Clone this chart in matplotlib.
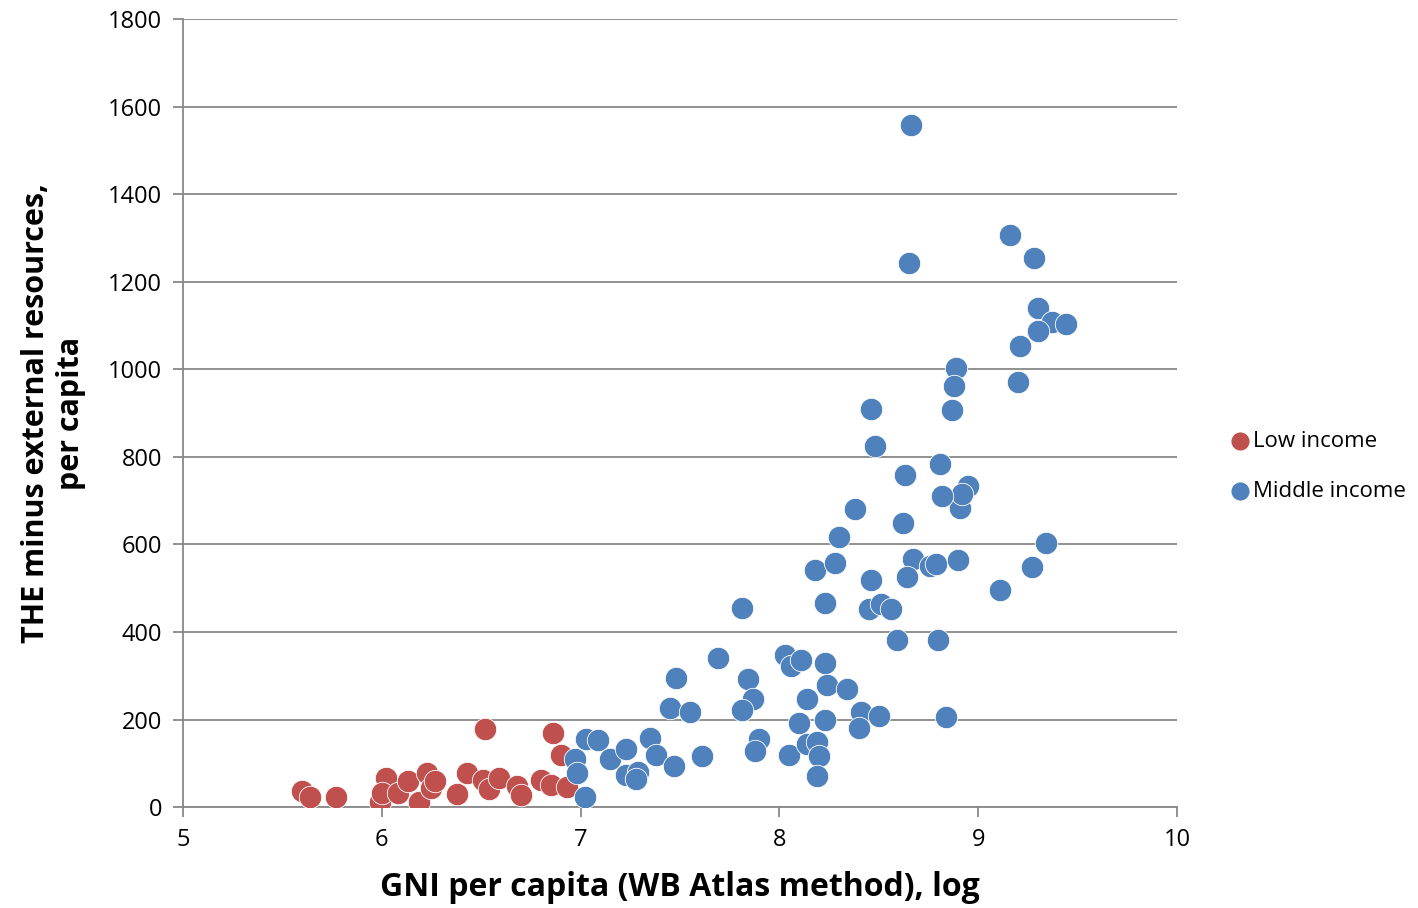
import numpy as np
import matplotlib.pyplot as plt

plt.rcParams['font.family'] = ['Open Sans', 'DejaVu Sans']

# Low income countries
low_x = [5.60, 5.64, 5.77, 5.99, 6.02, 6.00, 6.08, 6.13, 6.19, 6.23, 6.25, 6.27,
         6.38, 6.43, 6.51, 6.52, 6.54, 6.59, 6.68, 6.70, 6.80, 6.85, 6.86, 6.90, 6.93]
low_y = [38, 23, 23, 11, 66, 32, 32, 59, 11, 78, 43, 59,
         30, 78, 62, 178, 41, 66, 48, 27, 62, 50, 169, 119, 46]

# Middle income countries
mid_x = [7.02, 6.97, 6.98, 7.03, 7.09, 7.15, 7.23, 7.23, 7.29, 7.28, 7.35, 7.38,
         7.47, 7.45, 7.48, 7.55, 7.61, 7.69, 7.84, 7.87, 7.81, 7.90, 7.88, 8.03,
         8.06, 8.11, 8.23, 8.24, 8.14, 8.34, 8.10, 8.23, 8.41, 8.40, 8.50, 8.05,
         8.14, 8.19, 8.20, 8.19, 8.38, 8.62, 8.91, 8.30, 8.18, 8.28, 8.46, 8.67,
         8.64, 8.76, 8.79, 8.90, 9.11, 7.81, 8.23, 8.45, 8.51, 8.56, 8.59, 8.80,
         8.84, 8.66, 8.65, 9.16, 9.28, 9.30, 9.37, 9.44, 9.30, 9.21, 9.20, 8.89,
         8.88, 8.87, 8.46, 8.48, 8.63, 8.81, 8.95, 8.92, 8.82, 9.34, 9.27]
mid_y = [23, 111, 77, 155, 153, 110, 132, 73, 80, 64, 157, 119,
         94, 227, 296, 218, 117, 340, 292, 246, 223, 155, 128, 347,
         322, 336, 330, 280, 246, 269, 192, 199, 218, 180, 208, 119,
         145, 149, 117, 72, 682, 650, 684, 616, 542, 558, 520, 568,
         526, 550, 556, 565, 497, 454, 467, 452, 463, 452, 383, 381,
         206, 1559, 1243, 1307, 1255, 1140, 1108, 1104, 1087, 1053, 970, 1004,
         963, 908, 910, 825, 759, 784, 733, 716, 710, 604, 549]

fig = plt.figure(figsize=(14.18, 9.08), dpi=100)
ax = fig.add_axes([0.129, 0.111, 0.701, 0.868])

ax.scatter(low_x, low_y, s=260, color='#C0504D', edgecolors='white', linewidths=0.6,
           label='Low income', zorder=3)
ax.scatter(mid_x, mid_y, s=260, color='#4F81BD', edgecolors='white', linewidths=0.6,
           label='Middle income', zorder=3)

ax.set_xlim(5, 10)
ax.set_ylim(0, 1800)
ax.set_xticks(np.arange(5, 11, 1))
ax.set_yticks(np.arange(0, 1801, 200))
ax.yaxis.grid(True, color='#888888', linewidth=1.3)
ax.set_axisbelow(True)

for s in ['top', 'right']:
    ax.spines[s].set_visible(False)
for s in ['left', 'bottom']:
    ax.spines[s].set_color('#888888')
    ax.spines[s].set_linewidth(1.3)
ax.tick_params(axis='both', direction='out', length=7, width=1.3, color='#888888',
               labelsize=17, pad=8)

ax.set_xlabel('GNI per capita (WB Atlas method), log', fontsize=23, fontweight='bold',
              labelpad=14)
ax.set_ylabel('THE minus external resources,\nper capita', fontsize=22, fontweight='bold',
              labelpad=16)

fig.legend(loc='center left', bbox_to_anchor=(0.868, 0.486), frameon=False,
           fontsize=16, handlelength=0.8, handletextpad=0.2, labelspacing=1.3,
           markerscale=0.85, borderaxespad=0, borderpad=0)

fig.savefig('out.png', dpi=100)
